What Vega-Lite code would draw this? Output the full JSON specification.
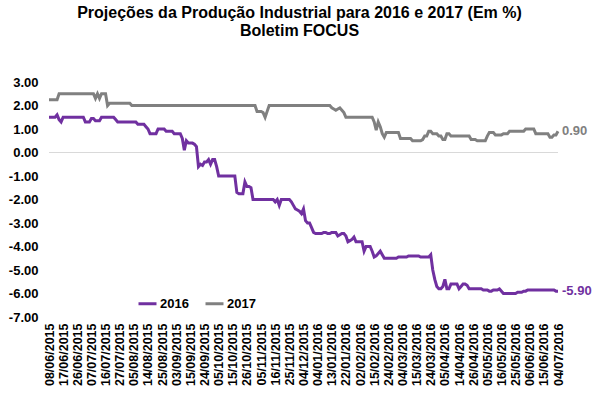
{
  "$schema": "https://vega.github.io/schema/vega-lite/v6.json",
  "width": 509,
  "height": 235,
  "autosize": {"type": "none"},
  "padding": {"left": 49, "top": 82, "right": 42, "bottom": 76},
  "background": "white",
  "config": {
    "view": {"stroke": null},
    "font": "Liberation Sans",
    "axisY": {"labelOverlap": false, "labelSeparation": 0, "labelBound": false, "labelFlush": false}
  },
  "title": {
    "text": ["Projeções da Produção Industrial para 2016 e 2017 (Em %)", "Boletim FOCUS"],
    "anchor": "middle",
    "fontSize": 16,
    "fontWeight": "bold",
    "font": "Liberation Sans",
    "color": "#000000",
    "lineHeight": 18,
    "offset": 37,
    "dx": -4
  },
  "data": {"values": [
    {"d":"08/06/2015","2016":1.5,"2017":2.25},{"d":"09/06/2015","2016":1.5,"2017":2.25},{"d":"10/06/2015","2016":1.5,"2017":2.25},{"d":"11/06/2015","2016":1.5,"2017":2.25},{"d":"12/06/2015","2016":1.6,"2017":2.25},
    {"d":"15/06/2015","2016":1.4,"2017":2.5},{"d":"16/06/2015","2016":1.3,"2017":2.5},{"d":"17/06/2015","2016":1.5,"2017":2.5},{"d":"18/06/2015","2016":1.5,"2017":2.5},{"d":"19/06/2015","2016":1.5,"2017":2.5},
    {"d":"22/06/2015","2016":1.5,"2017":2.5},{"d":"23/06/2015","2016":1.5,"2017":2.5},{"d":"24/06/2015","2016":1.5,"2017":2.5},{"d":"25/06/2015","2016":1.5,"2017":2.5},{"d":"26/06/2015","2016":1.5,"2017":2.5},
    {"d":"29/06/2015","2016":1.5,"2017":2.5},{"d":"30/06/2015","2016":1.5,"2017":2.5},{"d":"01/07/2015","2016":1.5,"2017":2.5},{"d":"02/07/2015","2016":1.3,"2017":2.5},{"d":"03/07/2015","2016":1.3,"2017":2.5},
    {"d":"06/07/2015","2016":1.3,"2017":2.5},{"d":"07/07/2015","2016":1.45,"2017":2.5},{"d":"08/07/2015","2016":1.45,"2017":2.5},{"d":"09/07/2015","2016":1.35,"2017":2.3},{"d":"10/07/2015","2016":1.35,"2017":2.5},
    {"d":"13/07/2015","2016":1.35,"2017":2.3},{"d":"14/07/2015","2016":1.5,"2017":2.5},{"d":"15/07/2015","2016":1.5,"2017":2.5},{"d":"16/07/2015","2016":1.5,"2017":2.5},{"d":"17/07/2015","2016":1.5,"2017":2.0},
    {"d":"20/07/2015","2016":1.5,"2017":2.1},{"d":"21/07/2015","2016":1.5,"2017":2.1},{"d":"22/07/2015","2016":1.5,"2017":2.1},{"d":"23/07/2015","2016":1.4,"2017":2.1},{"d":"24/07/2015","2016":1.3,"2017":2.1},
    {"d":"27/07/2015","2016":1.3,"2017":2.1},{"d":"28/07/2015","2016":1.3,"2017":2.1},{"d":"29/07/2015","2016":1.3,"2017":2.1},{"d":"30/07/2015","2016":1.3,"2017":2.1},{"d":"31/07/2015","2016":1.3,"2017":2.1},
    {"d":"03/08/2015","2016":1.3,"2017":2.1},{"d":"04/08/2015","2016":1.3,"2017":2.0},{"d":"05/08/2015","2016":1.3,"2017":2.0},{"d":"06/08/2015","2016":1.3,"2017":2.0},{"d":"07/08/2015","2016":1.2,"2017":2.0},
    {"d":"10/08/2015","2016":1.2,"2017":2.0},{"d":"11/08/2015","2016":1.2,"2017":2.0},{"d":"12/08/2015","2016":1.2,"2017":2.0},{"d":"13/08/2015","2016":1.1,"2017":2.0},{"d":"14/08/2015","2016":1.0,"2017":2.0},
    {"d":"17/08/2015","2016":0.8,"2017":2.0},{"d":"18/08/2015","2016":0.8,"2017":2.0},{"d":"19/08/2015","2016":0.8,"2017":2.0},{"d":"20/08/2015","2016":0.8,"2017":2.0},{"d":"21/08/2015","2016":1.0,"2017":2.0},
    {"d":"24/08/2015","2016":1.0,"2017":2.0},{"d":"25/08/2015","2016":1.0,"2017":2.0},{"d":"26/08/2015","2016":1.0,"2017":2.0},{"d":"27/08/2015","2016":0.9,"2017":2.0},{"d":"28/08/2015","2016":0.9,"2017":2.0},
    {"d":"31/08/2015","2016":0.9,"2017":2.0},{"d":"01/09/2015","2016":0.9,"2017":2.0},{"d":"02/09/2015","2016":0.8,"2017":2.0},{"d":"03/09/2015","2016":0.8,"2017":2.0},{"d":"04/09/2015","2016":0.8,"2017":2.0},
    {"d":"08/09/2015","2016":0.8,"2017":2.0},{"d":"09/09/2015","2016":0.6,"2017":2.0},{"d":"10/09/2015","2016":0.1,"2017":2.0},{"d":"11/09/2015","2016":0.5,"2017":2.0},{"d":"14/09/2015","2016":0.4,"2017":2.0},
    {"d":"15/09/2015","2016":0.4,"2017":2.0},{"d":"16/09/2015","2016":0.4,"2017":2.0},{"d":"17/09/2015","2016":0.35,"2017":2.0},{"d":"18/09/2015","2016":0.25,"2017":2.0},{"d":"21/09/2015","2016":-0.6,"2017":2.0},
    {"d":"22/09/2015","2016":-0.5,"2017":2.0},{"d":"23/09/2015","2016":-0.55,"2017":2.0},{"d":"24/09/2015","2016":-0.4,"2017":2.0},{"d":"25/09/2015","2016":-0.4,"2017":2.0},{"d":"28/09/2015","2016":-0.3,"2017":2.0},
    {"d":"29/09/2015","2016":-0.5,"2017":2.0},{"d":"30/09/2015","2016":-0.3,"2017":2.0},{"d":"01/10/2015","2016":-0.3,"2017":2.0},{"d":"02/10/2015","2016":-0.6,"2017":2.0},{"d":"05/10/2015","2016":-1.0,"2017":2.0},
    {"d":"06/10/2015","2016":-1.0,"2017":2.0},{"d":"07/10/2015","2016":-1.0,"2017":2.0},{"d":"08/10/2015","2016":-1.0,"2017":2.0},{"d":"09/10/2015","2016":-1.0,"2017":2.0},{"d":"13/10/2015","2016":-1.0,"2017":2.0},
    {"d":"14/10/2015","2016":-1.0,"2017":2.0},{"d":"15/10/2015","2016":-1.0,"2017":2.0},{"d":"16/10/2015","2016":-1.0,"2017":2.0},{"d":"19/10/2015","2016":-1.7,"2017":2.0},{"d":"20/10/2015","2016":-1.75,"2017":2.0},
    {"d":"21/10/2015","2016":-1.75,"2017":2.0},{"d":"22/10/2015","2016":-1.75,"2017":2.0},{"d":"23/10/2015","2016":-1.25,"2017":2.0},{"d":"26/10/2015","2016":-1.45,"2017":2.0},{"d":"27/10/2015","2016":-1.45,"2017":2.0},
    {"d":"28/10/2015","2016":-1.5,"2017":2.0},{"d":"29/10/2015","2016":-2.0,"2017":2.0},{"d":"30/10/2015","2016":-2.0,"2017":2.0},{"d":"03/11/2015","2016":-2.0,"2017":1.75},{"d":"04/11/2015","2016":-2.0,"2017":1.75},
    {"d":"05/11/2015","2016":-2.0,"2017":1.75},{"d":"06/11/2015","2016":-2.0,"2017":1.7},{"d":"09/11/2015","2016":-2.0,"2017":1.5},{"d":"10/11/2015","2016":-2.0,"2017":1.75},{"d":"11/11/2015","2016":-2.0,"2017":2.0},
    {"d":"12/11/2015","2016":-2.0,"2017":2.0},{"d":"13/11/2015","2016":-2.0,"2017":2.0},{"d":"16/11/2015","2016":-2.1,"2017":2.0},{"d":"17/11/2015","2016":-2.0,"2017":2.0},{"d":"18/11/2015","2016":-2.25,"2017":2.0},
    {"d":"19/11/2015","2016":-2.0,"2017":2.0},{"d":"20/11/2015","2016":-2.0,"2017":2.0},{"d":"23/11/2015","2016":-2.0,"2017":2.0},{"d":"24/11/2015","2016":-2.0,"2017":2.0},{"d":"25/11/2015","2016":-2.0,"2017":2.0},
    {"d":"26/11/2015","2016":-2.1,"2017":2.0},{"d":"27/11/2015","2016":-2.25,"2017":2.0},{"d":"30/11/2015","2016":-2.4,"2017":2.0},{"d":"01/12/2015","2016":-2.45,"2017":2.0},{"d":"02/12/2015","2016":-2.5,"2017":2.0},
    {"d":"03/12/2015","2016":-2.6,"2017":2.0},{"d":"04/12/2015","2016":-2.4,"2017":2.0},{"d":"08/12/2015","2016":-2.9,"2017":2.0},{"d":"11/12/2015","2016":-3.0,"2017":2.0},{"d":"15/12/2015","2016":-3.0,"2017":2.0},
    {"d":"18/12/2015","2016":-3.2,"2017":2.0},{"d":"22/12/2015","2016":-3.4,"2017":2.0},{"d":"29/12/2015","2016":-3.45,"2017":2.0},{"d":"04/01/2016","2016":-3.45,"2017":2.0},{"d":"05/01/2016","2016":-3.45,"2017":2.0},
    {"d":"06/01/2016","2016":-3.45,"2017":2.0},{"d":"07/01/2016","2016":-3.4,"2017":2.0},{"d":"08/01/2016","2016":-3.4,"2017":2.0},{"d":"11/01/2016","2016":-3.45,"2017":2.0},{"d":"12/01/2016","2016":-3.45,"2017":2.0},
    {"d":"13/01/2016","2016":-3.4,"2017":1.9},{"d":"14/01/2016","2016":-3.4,"2017":1.85},{"d":"15/01/2016","2016":-3.4,"2017":1.8},{"d":"18/01/2016","2016":-3.55,"2017":1.85},{"d":"19/01/2016","2016":-3.5,"2017":1.9},
    {"d":"20/01/2016","2016":-3.45,"2017":1.8},{"d":"21/01/2016","2016":-3.45,"2017":1.7},{"d":"22/01/2016","2016":-3.55,"2017":1.5},{"d":"25/01/2016","2016":-3.8,"2017":1.5},{"d":"26/01/2016","2016":-3.75,"2017":1.5},
    {"d":"27/01/2016","2016":-3.7,"2017":1.5},{"d":"28/01/2016","2016":-3.6,"2017":1.5},{"d":"29/01/2016","2016":-3.8,"2017":1.5},{"d":"01/02/2016","2016":-3.8,"2017":1.5},{"d":"02/02/2016","2016":-3.8,"2017":1.5},
    {"d":"03/02/2016","2016":-3.8,"2017":1.5},{"d":"04/02/2016","2016":-4.2,"2017":1.5},{"d":"05/02/2016","2016":-4.0,"2017":1.5},{"d":"10/02/2016","2016":-4.0,"2017":1.5},{"d":"11/02/2016","2016":-4.0,"2017":1.5},
    {"d":"12/02/2016","2016":-4.2,"2017":1.5},{"d":"15/02/2016","2016":-4.45,"2017":1.3},{"d":"16/02/2016","2016":-4.4,"2017":0.95},{"d":"17/02/2016","2016":-4.3,"2017":1.3},{"d":"18/02/2016","2016":-4.2,"2017":1.1},
    {"d":"19/02/2016","2016":-4.35,"2017":0.8},{"d":"22/02/2016","2016":-4.5,"2017":0.65},{"d":"23/02/2016","2016":-4.5,"2017":0.85},{"d":"24/02/2016","2016":-4.5,"2017":0.85},{"d":"25/02/2016","2016":-4.5,"2017":0.85},
    {"d":"26/02/2016","2016":-4.5,"2017":0.85},{"d":"29/02/2016","2016":-4.5,"2017":0.85},{"d":"01/03/2016","2016":-4.5,"2017":0.85},{"d":"02/03/2016","2016":-4.45,"2017":0.85},{"d":"03/03/2016","2016":-4.45,"2017":0.6},
    {"d":"04/03/2016","2016":-4.45,"2017":0.6},{"d":"07/03/2016","2016":-4.45,"2017":0.6},{"d":"08/03/2016","2016":-4.45,"2017":0.6},{"d":"09/03/2016","2016":-4.4,"2017":0.6},{"d":"10/03/2016","2016":-4.4,"2017":0.6},
    {"d":"11/03/2016","2016":-4.4,"2017":0.5},{"d":"14/03/2016","2016":-4.4,"2017":0.5},{"d":"15/03/2016","2016":-4.4,"2017":0.5},{"d":"16/03/2016","2016":-4.4,"2017":0.5},{"d":"17/03/2016","2016":-4.45,"2017":0.5},
    {"d":"18/03/2016","2016":-4.45,"2017":0.55},{"d":"21/03/2016","2016":-4.45,"2017":0.7},{"d":"22/03/2016","2016":-4.45,"2017":0.7},{"d":"23/03/2016","2016":-4.45,"2017":0.9},{"d":"24/03/2016","2016":-4.35,"2017":0.9},
    {"d":"28/03/2016","2016":-5.0,"2017":0.8},{"d":"29/03/2016","2016":-5.4,"2017":0.8},{"d":"30/03/2016","2016":-5.7,"2017":0.8},{"d":"31/03/2016","2016":-5.8,"2017":0.7},{"d":"01/04/2016","2016":-5.8,"2017":0.7},
    {"d":"04/04/2016","2016":-5.7,"2017":0.55},{"d":"05/04/2016","2016":-5.4,"2017":0.55},{"d":"06/04/2016","2016":-5.8,"2017":0.8},{"d":"07/04/2016","2016":-5.8,"2017":0.8},{"d":"08/04/2016","2016":-5.6,"2017":0.7},
    {"d":"11/04/2016","2016":-5.6,"2017":0.7},{"d":"12/04/2016","2016":-5.6,"2017":0.7},{"d":"13/04/2016","2016":-5.6,"2017":0.7},{"d":"14/04/2016","2016":-5.8,"2017":0.7},{"d":"15/04/2016","2016":-5.7,"2017":0.7},
    {"d":"18/04/2016","2016":-5.6,"2017":0.7},{"d":"19/04/2016","2016":-5.6,"2017":0.7},{"d":"20/04/2016","2016":-5.65,"2017":0.7},{"d":"22/04/2016","2016":-5.8,"2017":0.7},{"d":"25/04/2016","2016":-5.8,"2017":0.55},
    {"d":"26/04/2016","2016":-5.8,"2017":0.55},{"d":"27/04/2016","2016":-5.8,"2017":0.55},{"d":"28/04/2016","2016":-5.8,"2017":0.5},{"d":"29/04/2016","2016":-5.8,"2017":0.5},{"d":"02/05/2016","2016":-5.8,"2017":0.5},
    {"d":"03/05/2016","2016":-5.85,"2017":0.5},{"d":"04/05/2016","2016":-5.85,"2017":0.5},{"d":"05/05/2016","2016":-5.85,"2017":0.7},{"d":"06/05/2016","2016":-5.9,"2017":0.85},{"d":"09/05/2016","2016":-5.9,"2017":0.85},
    {"d":"10/05/2016","2016":-5.85,"2017":0.85},{"d":"11/05/2016","2016":-5.85,"2017":0.75},{"d":"12/05/2016","2016":-5.85,"2017":0.75},{"d":"13/05/2016","2016":-5.8,"2017":0.75},{"d":"16/05/2016","2016":-5.9,"2017":0.75},
    {"d":"17/05/2016","2016":-6.0,"2017":0.8},{"d":"18/05/2016","2016":-6.0,"2017":0.8},{"d":"19/05/2016","2016":-6.0,"2017":0.8},{"d":"20/05/2016","2016":-6.0,"2017":0.9},{"d":"23/05/2016","2016":-6.0,"2017":0.9},
    {"d":"24/05/2016","2016":-6.0,"2017":0.9},{"d":"25/05/2016","2016":-6.0,"2017":0.9},{"d":"27/05/2016","2016":-5.95,"2017":0.9},{"d":"30/05/2016","2016":-5.95,"2017":0.9},{"d":"31/05/2016","2016":-5.95,"2017":0.9},
    {"d":"01/06/2016","2016":-5.9,"2017":0.9},{"d":"02/06/2016","2016":-5.9,"2017":1.0},{"d":"03/06/2016","2016":-5.85,"2017":1.0},{"d":"06/06/2016","2016":-5.85,"2017":1.0},{"d":"07/06/2016","2016":-5.85,"2017":1.0},
    {"d":"08/06/2016","2016":-5.85,"2017":1.0},{"d":"09/06/2016","2016":-5.85,"2017":0.8},{"d":"10/06/2016","2016":-5.85,"2017":0.8},{"d":"13/06/2016","2016":-5.85,"2017":0.8},{"d":"14/06/2016","2016":-5.85,"2017":0.8},
    {"d":"15/06/2016","2016":-5.85,"2017":0.8},{"d":"16/06/2016","2016":-5.85,"2017":0.8},{"d":"17/06/2016","2016":-5.85,"2017":0.8},{"d":"20/06/2016","2016":-5.85,"2017":0.65},{"d":"22/06/2016","2016":-5.85,"2017":0.65},
    {"d":"24/06/2016","2016":-5.85,"2017":0.75},{"d":"29/06/2016","2016":-5.9,"2017":0.75},{"d":"04/07/2016","2016":-5.9,"2017":0.9}
  ]},
  "transform": [{"fold": ["2016", "2017"], "as": ["serie", "valor"]}],
  "layer": [
    {
      "data": {"values": [{"valor": 0}]},
      "transform": [],
      "mark": {"type": "rule", "color": "#d9d9d9", "strokeWidth": 1},
      "encoding": {"y": {"field": "valor", "type": "quantitative"}}
    },
    {
      "mark": {"type": "line", "strokeWidth": 3, "interpolate": "linear"},
      "encoding": {
        "x": {
          "field": "d", "type": "ordinal", "sort": null,
          "scale": {"type": "point", "padding": 0},
          "axis": {
            "title": null, "domain": false, "ticks": false, "grid": false,
            "labelAngle": 270, "labelAlign": "right", "labelBaseline": "middle",
            "labelFont": "Liberation Sans", "labelFontWeight": "bold", "labelFontSize": 12.5,
            "labelColor": "#000000", "labelPadding": 6, "labelOverlap": false,
            "values": ["08/06/2015","17/06/2015","26/06/2015","07/07/2015","16/07/2015","27/07/2015","05/08/2015","14/08/2015","25/08/2015","03/09/2015","15/09/2015","24/09/2015","05/10/2015","15/10/2015","26/10/2015","05/11/2015","16/11/2015","25/11/2015","04/12/2015","04/01/2016","13/01/2016","22/01/2016","02/02/2016","15/02/2016","24/02/2016","04/03/2016","15/03/2016","24/03/2016","05/04/2016","14/04/2016","26/04/2016","05/05/2016","16/05/2016","25/05/2016","06/06/2016","15/06/2016","04/07/2016"]
          }
        },
        "y": {
          "field": "valor", "type": "quantitative",
          "scale": {"domain": [-7, 3], "nice": false, "zero": false},
          "axis": {
            "title": null, "domain": false, "ticks": false, "grid": false,
            "tickCount": 11,
            "labelExpr": "replace(format(datum.value, '.2f'), '\u2212', '-')",
            "labelOverlap": false,
            "labelFont": "Liberation Sans", "labelFontWeight": "bold", "labelFontSize": 13,
            "labelColor": "#000000", "labelPadding": 11
          }
        },
        "color": {
          "field": "serie", "type": "nominal",
          "scale": {"domain": ["2016", "2017"], "range": ["#7030A0", "#808080"]},
          "legend": {
            "title": null, "orient": "none", "direction": "horizontal",
            "legendX": 88, "legendY": 211,
            "symbolType": "stroke", "symbolStrokeWidth": 3, "symbolSize": 324,
            "labelFont": "Liberation Sans", "labelFontWeight": "bold", "labelFontSize": 13,
            "labelColor": "#000000", "labelOffset": 2, "columnPadding": 10
          }
        }
      }
    },
    {
      "transform": [
        {"filter": "datum.d == '04/07/2016'"},
        {"calculate": "replace(format(datum.valor, '.2f'), '\u2212', '-')", "as": "rotulo"}
      ],
      "mark": {"type": "text", "align": "left", "baseline": "middle", "dx": 4, "fontSize": 13, "fontWeight": "bold", "font": "Liberation Sans"},
      "encoding": {
        "x": {"field": "d", "type": "ordinal", "sort": null},
        "y": {"field": "valor", "type": "quantitative"},
        "text": {"field": "rotulo", "type": "nominal"},
        "color": {"field": "serie", "type": "nominal"}
      }
    }
  ]
}
